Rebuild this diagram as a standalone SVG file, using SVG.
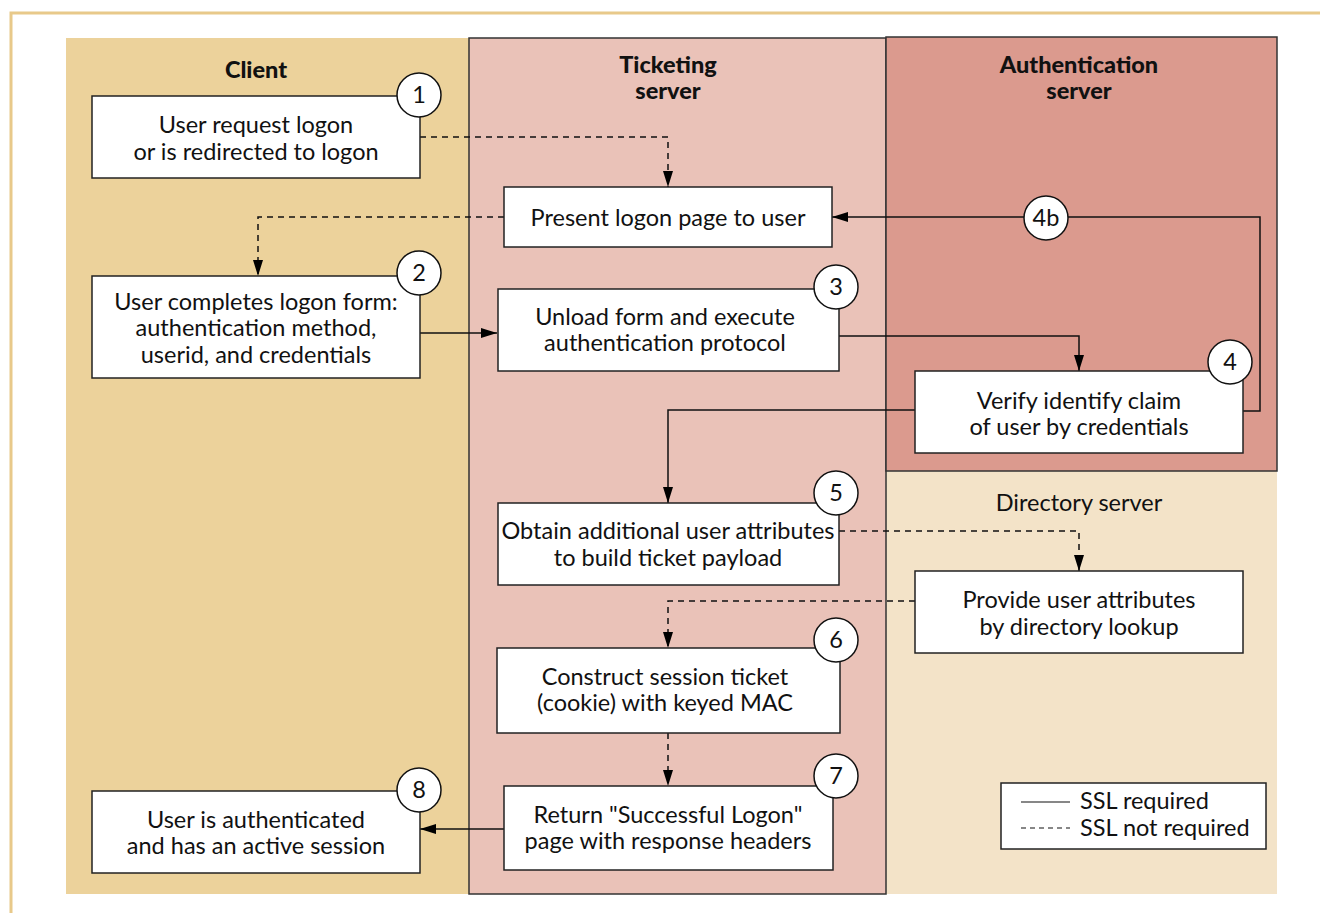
<svg xmlns="http://www.w3.org/2000/svg" width="1320" height="913" viewBox="0 0 1320 913">
<defs>
<marker id="ah" viewBox="0 0 16 10" refX="16" refY="5" markerWidth="16" markerHeight="10" markerUnits="userSpaceOnUse" orient="auto">
<path d="M0,0 L16,5 L0,10 Z" fill="#000"/>
</marker>
</defs>
<style>
text{font-family:Lato,"Open Sans","Liberation Sans",sans-serif;font-size:23.5px;fill:#111;text-anchor:middle}
.title{font-weight:900;font-size:23.5px}
.box{fill:#fff;stroke:#222;stroke-width:1.5}
.num{fill:#fff;stroke:#111;stroke-width:1.5}
.c{fill:none;stroke:#111;stroke-width:1.5}
.d{stroke-dasharray:6,5}
.lgt{text-anchor:start}
</style>
<rect width="1320" height="913" fill="#fff"/>
<path d="M11,913 V13 H1320" fill="none" stroke="#E8C98A" stroke-width="3"/>
<g id="lanes">
<rect x="66" y="38" width="403" height="856" fill="#ECD29B"/>
<rect x="886" y="471" width="391" height="423" fill="#F3E3C8"/>
<rect x="469" y="38" width="417" height="856" fill="#EAC2B8" stroke="#333" stroke-width="1.5"/>
<rect x="886" y="37" width="391" height="434" fill="#DB9A8E" stroke="#333" stroke-width="1.5"/>
<text class="title" x="256" y="78">Client</text>
<text class="title" x="668" y="73">Ticketing</text>
<text class="title" x="668" y="99">server</text>
<text class="title" x="1079" y="73">Authentication</text>
<text class="title" x="1079" y="99">server</text>
<text x="1079" y="511">Directory server</text>
</g>
<g id="connectors">
<path class="c d" d="M420,137 H668 V187" marker-end="url(#ah)"/>
<path class="c d" d="M504,217 H258 V276" marker-end="url(#ah)"/>
<path class="c" d="M420,333 H497" marker-end="url(#ah)"/>
<path class="c" d="M839,336 H1079 V371" marker-end="url(#ah)"/>
<path class="c" d="M1243,411 H1260 V217 H832" marker-end="url(#ah)"/>
<path class="c" d="M915,410 H668 V503" marker-end="url(#ah)"/>
<path class="c d" d="M839,531 H1079 V571" marker-end="url(#ah)"/>
<path class="c d" d="M915,601 H668 V648" marker-end="url(#ah)"/>
<path class="c d" d="M668,733 V786" marker-end="url(#ah)"/>
<path class="c" d="M504,829 H420" marker-end="url(#ah)"/>
</g>
<g id="n4b">
<circle class="num" cx="1046" cy="218" r="22"/>
<text x="1046" y="226">4b</text>
</g>
<g id="n1">
<rect class="box" x="92" y="96" width="328" height="82"/>
<text x="256" y="133">User request logon</text>
<text x="256" y="160">or is redirected to logon</text>
<circle class="num" cx="419" cy="95" r="22"/>
<text x="419" y="103">1</text>
</g>
<g id="present">
<rect class="box" x="504" y="187" width="328" height="60"/>
<text x="668" y="226">Present logon page to user</text>
</g>
<g id="n2">
<rect class="box" x="92" y="276" width="328" height="102"/>
<text x="256" y="310">User completes logon form:</text>
<text x="256" y="336">authentication method,</text>
<text x="256" y="363">userid, and credentials</text>
<circle class="num" cx="419" cy="273" r="22"/>
<text x="419" y="281">2</text>
</g>
<g id="n3">
<rect class="box" x="498" y="289" width="341" height="82"/>
<text x="665" y="325">Unload form and execute</text>
<text x="665" y="351">authentication protocol</text>
<circle class="num" cx="836" cy="287" r="22"/>
<text x="836" y="295">3</text>
</g>
<g id="n4">
<rect class="box" x="915" y="371" width="328" height="82"/>
<text x="1079" y="409">Verify identify claim</text>
<text x="1079" y="435">of user by credentials</text>
<circle class="num" cx="1230" cy="362" r="22"/>
<text x="1230" y="370">4</text>
</g>
<g id="n5">
<rect class="box" x="498" y="503" width="341" height="82"/>
<text x="668" y="539">Obtain additional user attributes</text>
<text x="668" y="566">to build ticket payload</text>
<circle class="num" cx="836" cy="493" r="22"/>
<text x="836" y="501">5</text>
</g>
<g id="directory">
<rect class="box" x="915" y="571" width="328" height="82"/>
<text x="1079" y="608">Provide user attributes</text>
<text x="1079" y="635">by directory lookup</text>
</g>
<g id="n6">
<rect class="box" x="497" y="648" width="343" height="85"/>
<text x="665" y="685">Construct session ticket</text>
<text x="665" y="711">(cookie) with keyed MAC</text>
<circle class="num" cx="836" cy="640" r="22"/>
<text x="836" y="648">6</text>
</g>
<g id="n7">
<rect class="box" x="504" y="786" width="329" height="84"/>
<text x="668" y="823">Return "Successful Logon"</text>
<text x="668" y="849">page with response headers</text>
<circle class="num" cx="836" cy="776" r="22"/>
<text x="836" y="784">7</text>
</g>
<g id="n8">
<rect class="box" x="92" y="791" width="328" height="82"/>
<text x="256" y="828">User is authenticated</text>
<text x="256" y="854">and has an active session</text>
<circle class="num" cx="419" cy="790" r="22"/>
<text x="419" y="798">8</text>
</g>
<g id="legend">
<rect x="1001" y="783" width="265" height="66" fill="#fff" stroke="#222" stroke-width="1.5"/>
<line x1="1021" y1="802" x2="1070" y2="802" stroke="#111" stroke-width="1.2"/>
<line x1="1021" y1="828" x2="1070" y2="828" stroke="#111" stroke-width="1.2" stroke-dasharray="5,4"/>
<text class="lgt" x="1080" y="809">SSL required</text>
<text class="lgt" x="1080" y="836">SSL not required</text>
</g>
</svg>
